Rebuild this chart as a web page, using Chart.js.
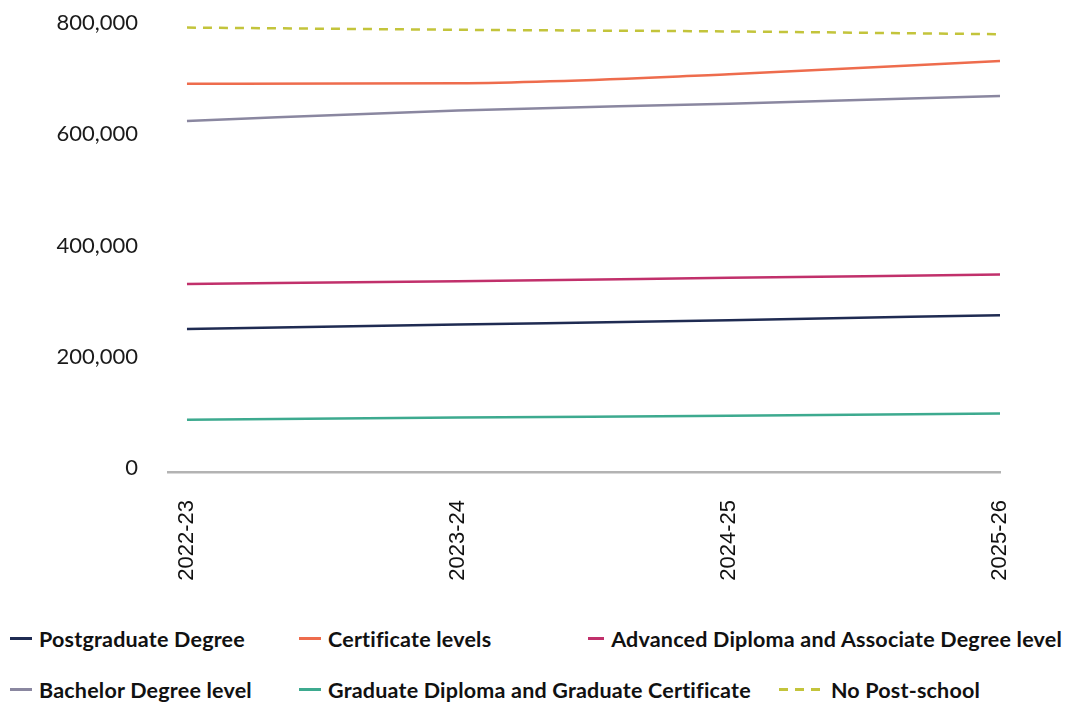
<!DOCTYPE html>
<html>
<head>
<meta charset="utf-8">
<script src="https://cdn.jsdelivr.net/npm/chart.js@4"></script>
<style>
  body { margin: 0; background: #fff; width: 1090px; height: 704px; overflow: hidden; }
  #wrap { position: relative; width: 1090px; height: 613px; }
  #legend { font-family: Lato, "Noto Sans", sans-serif; font-weight: 700; font-size: 21.5px; letter-spacing: 0.2px; color: #111; }
  .row { display: flex; height: 51px; align-items: center; padding-left: 10px; }
  .item { display: flex; align-items: center; min-width: 289px; padding-right: 28px; box-sizing: border-box; white-space: nowrap; }
  .swatch { width: 22px; height: 3px; margin-right: 7px; }
  .swatch.dashed { width: 42px; margin-right: 10px; }
</style>
</head>
<body>
<div id="wrap"><canvas id="lineChart"></canvas></div>
<div id="legend"></div>
<script>
const years = ['2022-23', '2023-24', '2024-25', '2025-26'];
const yTicks = [0, 200000, 400000, 600000, 800000];

const postgraduate = [257000, 265000, 273000, 282000];
const certificate = [698000, 699000, 715000, 739000];
const advancedDiploma = [338000, 343000, 349000, 355000];
const bachelor = [631000, 650000, 662000, 676000];
const graduateDiploma = [94000, 98000, 101000, 105000];
const noPostSchool = [799000, 795000, 792000, 787000];

const series = [
  { label: 'Postgraduate Degree', data: postgraduate, color: '#1f2b52' },
  { label: 'Certificate levels', data: certificate, color: '#ee6c4d' },
  { label: 'Advanced Diploma and Associate Degree level', data: advancedDiploma, color: '#c1306b' },
  { label: 'Bachelor Degree level', data: bachelor, color: '#8a87a0' },
  { label: 'Graduate Diploma and Graduate Certificate', data: graduateDiploma, color: '#3daa8f' },
  { label: 'No Post-school', data: noPostSchool, color: '#c3c43b', dash: [9, 7] },
];

const buildDatasets = () => series.map(s => ({
  label: s.label,
  data: s.data.map((v, i) => ({ x: i, y: v })),
  borderColor: s.color,
  backgroundColor: s.color,
  borderWidth: 2.5,
  borderDash: s.dash || [],
  pointRadius: 0,
  cubicInterpolationMode: 'monotone',
  clip: false
}));

const renderLegend = () => {
  const legend = document.getElementById('legend');
  for (let r = 0; r < 2; r++) {
    const row = document.createElement('div');
    row.className = 'row';
    series.slice(r * 3, r * 3 + 3).forEach(s => {
      const item = document.createElement('div');
      item.className = 'item';
      const sw = document.createElement('span');
      sw.className = s.dash ? 'swatch dashed' : 'swatch';
      sw.style.background = s.dash
        ? `repeating-linear-gradient(90deg, ${s.color} 0 9px, transparent 9px 16px)`
        : s.color;
      const txt = document.createElement('span');
      txt.textContent = s.label;
      item.appendChild(sw);
      item.appendChild(txt);
      row.appendChild(item);
    });
    legend.appendChild(row);
  }
}

const renderChart = () => {
  const ctx = document.getElementById('lineChart').getContext('2d');
  new Chart(ctx, {
    type: 'line',
    data: { datasets: buildDatasets() },
    options: {
      responsive: true,
      maintainAspectRatio: false,
      animation: false,
      layout: { padding: { top: 27, right: 90, left: 0, bottom: 0 } },
      plugins: { legend: { display: false }, tooltip: { enabled: false } },
      scales: {
        x: {
          type: 'linear',
          min: -0.07,
          max: 3,
          afterBuildTicks: scale => { scale.ticks = years.map((_, i) => ({ value: i })); },
          afterFit: scale => { scale.height = 141; },
          grid: { display: false },
          border: { color: '#b3b3b3', width: 2.5 },
          ticks: {
            callback: v => years[v],
            minRotation: 90,
            maxRotation: 90,
            padding: 20,
            color: '#111',
            font: { family: 'Liberation Sans', size: 22 }
          }
        },
        y: {
          min: 0,
          max: 800000,
          afterBuildTicks: scale => { scale.ticks = yTicks.map(v => ({ value: v })); },
          afterFit: scale => {
            scale.width = 168;
            // keep the top label from pushing the plot down
            scale.paddingTop = 0;
            scale.paddingBottom = 0;
          },
          grid: { display: false },
          border: { display: false },
          ticks: {
            callback: v => v.toLocaleString('en-US'),
            padding: 22,
            labelOffset: -4,
            color: '#1a1a1a',
            font: { family: 'Lato', size: 22 }
          }
        }
      }
    }
  });
}

renderChart();
renderLegend();
</script>
</body>
</html>
